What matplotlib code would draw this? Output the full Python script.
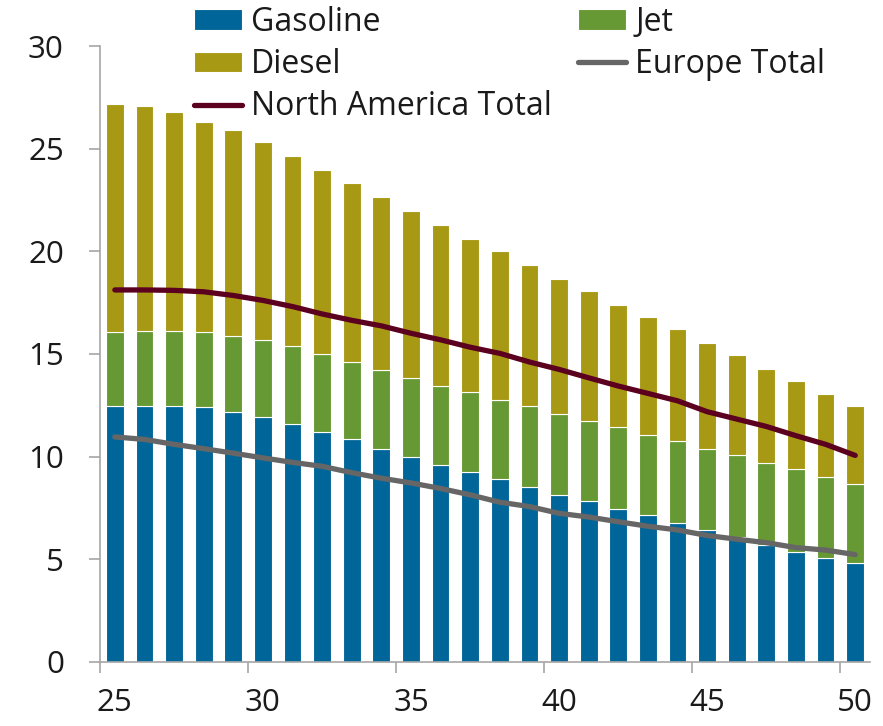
import numpy as np
import matplotlib
matplotlib.use("Agg")
import matplotlib.pyplot as plt

# ---------- DATA ----------
years = list(range(25, 51))

gasoline = [12.49, 12.49, 12.49, 12.40, 12.19, 11.92, 11.61, 11.21, 10.84, 10.35,
            9.96, 9.58, 9.27, 8.90, 8.50, 8.12, 7.82, 7.46, 7.15, 6.79,
            6.43, 6.10, 5.72, 5.38, 5.08, 4.81]
jet = [3.60, 3.65, 3.65, 3.69, 3.68, 3.75, 3.77, 3.80, 3.77, 3.87,
       3.88, 3.86, 3.90, 3.86, 3.99, 3.98, 3.90, 3.97, 3.90, 3.96,
       3.92, 3.96, 3.95, 4.00, 3.92, 3.87]
diesel = [11.10, 10.94, 10.66, 10.22, 10.06, 9.67, 9.28, 8.97, 8.70, 8.41,
          8.12, 7.82, 7.41, 7.24, 6.85, 6.56, 6.34, 5.97, 5.75, 5.48,
          5.20, 4.91, 4.62, 4.30, 4.03, 3.78]
na_total = [18.12, 18.12, 18.10, 18.03, 17.85, 17.61, 17.31, 16.95, 16.64, 16.37,
            16.01, 15.69, 15.33, 15.03, 14.61, 14.25, 13.84, 13.44, 13.08, 12.72,
            12.19, 11.83, 11.47, 11.02, 10.60, 10.06]
europe_total = [10.96, 10.84, 10.60, 10.39, 10.17, 9.94, 9.72, 9.53, 9.22, 8.95,
                8.72, 8.45, 8.14, 7.78, 7.57, 7.24, 7.06, 6.83, 6.61, 6.43,
                6.16, 5.98, 5.81, 5.57, 5.45, 5.23]

tick_labels = ["25", "30", "35", "40", "45", "50"]

# ---------- STYLE ----------
plt.rcParams["font.family"] = ["Open Sans", "DejaVu Sans"]
C_GAS = "#006699"
C_JET = "#669933"
C_DIESEL = "#A89914"
C_NA = "#5C0020"
C_EU = "#666666"
TEXT = "#1a1a1a"
AXIS = "#a6a6a6"

fig = plt.figure(figsize=(8.83, 7.26), dpi=100)
ax = fig.add_axes([0.1133, 0.0882, 0.872, 0.8484])

x = np.array(years)
gas = np.array(gasoline)
jt = np.array(jet)
w = 0.6
ax.bar(x, gas, width=w, color=C_GAS, edgecolor="white", linewidth=0.8, label="Gasoline", zorder=2)
ax.bar(x, jt, width=w, bottom=gas, color=C_JET, edgecolor="white", linewidth=0.8, label="Jet", zorder=2)
ax.bar(x, diesel, width=w, bottom=gas + jt, color=C_DIESEL, edgecolor="white", linewidth=0.8,
       label="Diesel", zorder=2)
ax.plot(x, na_total, color=C_NA, lw=3.8, solid_capstyle="round", label="North America Total", zorder=3)
ax.plot(x, europe_total, color=C_EU, lw=3.8, solid_capstyle="round", label="Europe Total", zorder=3)

ax.set_xlim(24.5, 50.5)
ax.set_ylim(0, 30)
ax.set_yticks([0, 5, 10, 15, 20, 25, 30])
ax.set_xticks([25, 30, 35, 40, 45, 50])
ax.set_xticklabels(tick_labels)
ax.set_xticks([24.5, 29.5, 34.5, 39.5, 44.5, 49.5], minor=True)

for s in ["top", "right"]:
    ax.spines[s].set_visible(False)
for s in ["left", "bottom"]:
    ax.spines[s].set_color(AXIS)
    ax.spines[s].set_linewidth(1.2)

ax.tick_params(axis="y", length=8, width=1.2, color=AXIS, pad=18, labelsize=22.5, labelcolor=TEXT)
ax.tick_params(axis="x", which="major", length=0, pad=19, labelsize=22.5, labelcolor=TEXT)
ax.tick_params(axis="x", which="minor", length=8, width=1.2, color=AXIS)

# ---------- LEGEND ----------
h, l = ax.get_legend_handles_labels()
order = ["Gasoline", "Diesel", "North America Total", "Jet", "Europe Total"]
hs = [h[l.index(n)] for n in order]
fig.legend(hs, order, loc="upper left", bbox_to_anchor=(0.2195, 0.992), ncol=2,
           frameon=False, fontsize=23, handlelength=1.5, handleheight=0.6,
           handletextpad=0.3, labelspacing=0.29, columnspacing=0.8,
           borderaxespad=0, borderpad=0, labelcolor=TEXT)

plt.savefig("out.png", dpi=100)
plt.close()
